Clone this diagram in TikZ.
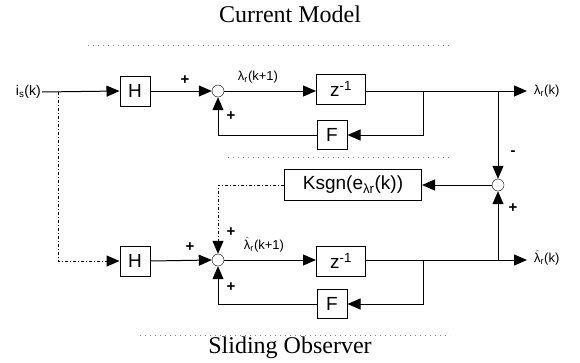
\documentclass[tikz,border=0pt]{standalone}
\usepackage{fontspec}
\setmainfont{Liberation Serif}
\newfontfamily\blockfont{Liberation Sans}
\usepackage{tikz}
\usetikzlibrary{arrows.meta}
\newcommand\lamhat{$\hat{\hbox{\blockfont λ}}$}

\begin{document}
\begin{tikzpicture}[x=1pt,y=-1pt,
  blk/.style={draw, line width=1pt, minimum height=30pt, minimum width=30pt, inner sep=1pt, font=\blockfont\fontsize{19}{19}\selectfont},
  sumc/.style={draw, thin, circle, minimum size=12pt, inner sep=0pt},
  sig/.style={-{Triangle[length=13pt,width=11pt]}, line width=1pt},
  lbl/.style={font=\blockfont\fontsize{13}{13}\selectfont, inner sep=1pt},
  sgn/.style={font=\blockfont\bfseries\fontsize{15}{15}\selectfont},
  hint/.style={gray, loosely dotted, line width=1pt}]
 \useasboundingbox (0,0) rectangle (580,362);

 \node[font=\fontsize{24}{24}\selectfont] (title) at (290,14) {Current Model};
 \node[font=\fontsize{24}{24}\selectfont] (subtitle) at (290,348) {Sliding Observer};
 \draw[hint] (88,45) -- (450,45);
 \draw[hint] (228,157) -- (450,157);
 \draw[hint] (140,335) -- (450,335);

 % current model
 \node[lbl, anchor=east, font=\blockfont\fontsize{14}{14}\selectfont] (in) at (42,92) {i\textsubscript{s}(k)};
 \node[blk] (hA) at (135,91) {H};
 \node[sumc] (sumA) at (218,91) {};
 \node[blk, minimum width=49pt] (zA) at (341,89) {z\textsuperscript{-1}};
 \node[blk, minimum height=29pt] (fA) at (332,135) {F};
 \coordinate (brA) at (423,91);
 \coordinate (outA) at (527,91);
 \coordinate (cmpIn) at (498,91);

 % sliding observer
 \node[blk] (hB) at (135,261) {H};
 \node[sumc] (sumB) at (218,260) {};
 \node[blk, minimum width=49pt] (zB) at (341,261) {z\textsuperscript{-1}};
 \node[blk, minimum height=29pt] (fB) at (332,304) {F};
 \coordinate (brB) at (423,260);
 \coordinate (outB) at (527,260);
 \coordinate (cmpOut) at (498,260);
 \coordinate (split) at (58,92);

 % error path
 \node[sumc] (cmp) at (498,185) {};
 \node[blk, minimum width=137pt, minimum height=31pt] (ksgn) at (353,185) {Ksgn(e\textsubscript{λr}(k))};

 \draw[sig] (in.east) -- (hA.west);
 \draw[sig] (hA.east) -- (sumA.west);
 \draw[sig] (sumA.east) -- (sumA.east -| zA.west);
 \draw[sig] (zA.east |- brA) -- (outA);
 \draw[sig] (brA) |- (fA.east);
 \draw[sig] (fA.west) -| (sumA.south);
 \node[lbl, anchor=west] (outAlbl) at (533,91) {λ\textsubscript{r}(k)};
 \node[lbl] (nextA) at (258,77) {λ\textsubscript{r}(k+1)};
 \node[sgn] at (185,80) {+};
 \node[sgn] at (231,116) {+};

 \draw[sig, dash dot] (split) |- (hB.west);
 \draw[sig] (hB.east) -- (sumB.west);
 \draw[sig] (sumB.east) -- (sumB.east -| zB.west);
 \draw[sig] (zB.east |- brB) -- (outB);
 \draw[sig] (brB) |- (fB.east);
 \draw[sig] (fB.west) -| (sumB.south);
 \node[lbl, anchor=west] (outBlbl) at (533,258) {\lamhat\textsubscript{r}(k)};
 \node[lbl] (nextB) at (264,245) {\lamhat\textsubscript{r}(k+1)};
 \node[sgn] at (190,247) {+};
 \node[sgn] at (231,232) {+};
 \node[sgn] at (231,287) {+};

 \draw[sig] (cmpIn) -- (cmp.north);
 \draw[sig] (cmpOut) -- (cmp.south);
 \draw[sig] (cmp.west) -- (ksgn.east);
 \draw[sig, dash dot] (ksgn.west) -| (sumB.north);
 \node[sgn] at (513,153) {-};
 \node[sgn] at (513,208) {+};
\end{tikzpicture}
\end{document}
